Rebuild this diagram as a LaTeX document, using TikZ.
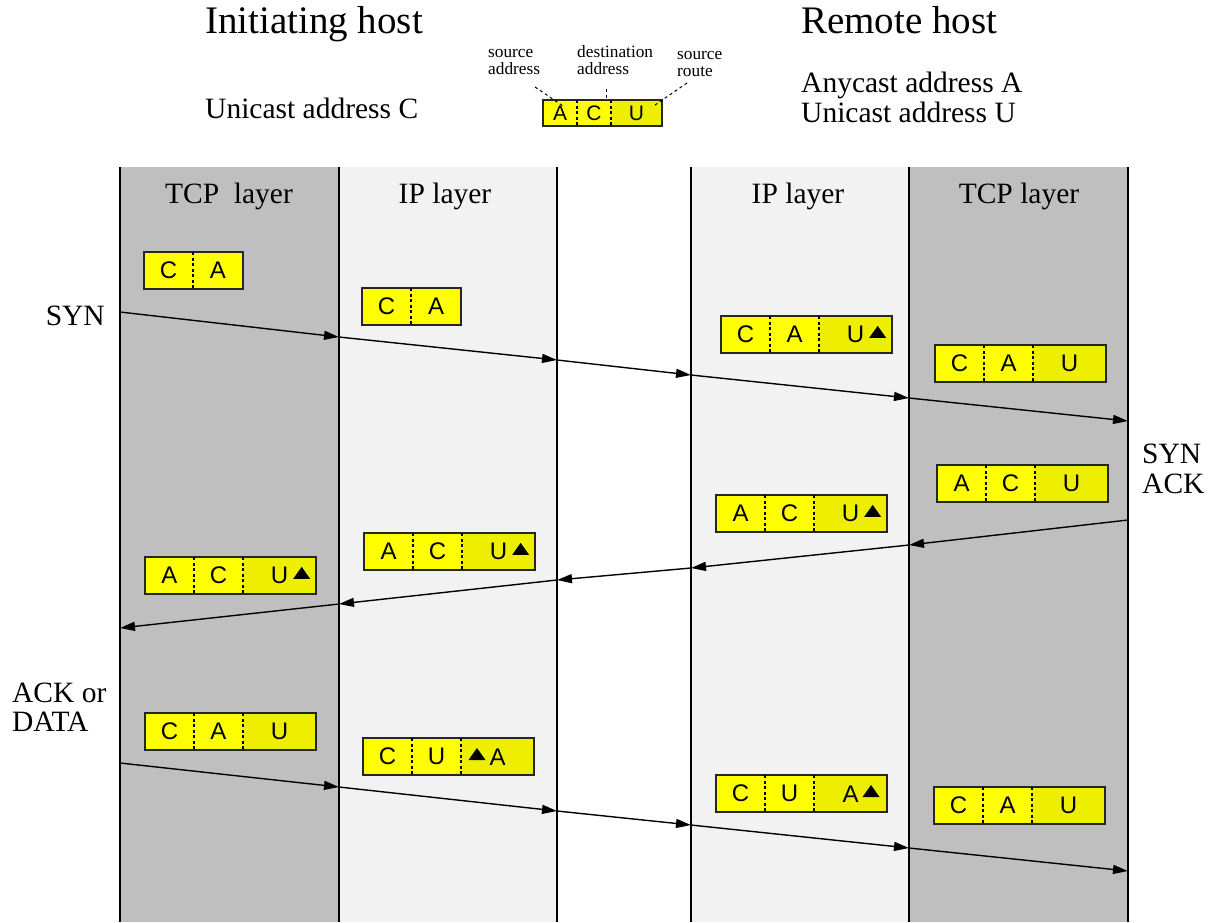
\documentclass[tikz,border=0pt]{standalone}
\usepackage{fontspec}
\setmainfont{Liberation Serif}
\newfontfamily\pktfont{Liberation Sans}
\usetikzlibrary{arrows.meta}
\definecolor{darkband}{HTML}{BFBFBF}
\definecolor{lightband}{HTML}{F2F2F2}
\definecolor{ylw}{HTML}{FFFF00}
\definecolor{ylwd}{HTML}{EEEE00}
\newcommand{\fsz}[1]{\fontsize{#1}{#1}\selectfont}
\newcommand{\tri}{\raisebox{5pt}{\tikz\fill (0pt,0pt)--(17pt,0pt)--(8.5pt,12pt)--cycle;}}
\tikzset{
  cellbase/.style={rectangle, inner sep=0pt, outer sep=0pt, minimum height=37, anchor=north west, font=\pktfont\fsz{24}},
  cell/.style={cellbase, fill=ylw},
  celld/.style={cellbase, fill=ylwd},
  hcellbase/.style={rectangle, inner sep=0pt, outer sep=0pt, minimum height=26, anchor=north west, font=\pktfont\fsz{21}},
  hcell/.style={hcellbase, fill=ylw},
  hcelld/.style={hcellbase, fill=ylwd},
  pktborder/.style={draw=black!85, line width=1.2},
  divider/.style={line width=1.1, dash pattern=on 3pt off 2.5pt},
  msg/.style={line width=1.4, -{Triangle[length=15pt,width=9pt]}},
  leader/.style={line width=1, dash pattern=on 3pt off 3pt},
  vline/.style={line width=1.4},
  title/.style={anchor=base west, inner sep=0pt, font=\fsz{39}},
  big/.style={inner sep=0pt, font=\fsz{29.5}},
  small/.style={anchor=base west, inner sep=0pt, font=\fsz{17.3}},
}
\newcommand{\pkttwo}[5]{%
  \node[cell, minimum width=49] (#1a) at (#2,#3) {#4};
  \node[cell, minimum width=50] (#1b) at (#1a.north east) {#5};
  \draw[pktborder] (#1a.north west) rectangle (#1b.south east);
  \draw[divider] (#1a.north east) -- (#1a.south east);}
\newcommand{\pktthree}[6]{%
  \node[cell, minimum width=49] (#1a) at (#2,#3) {#4};
  \node[cell, minimum width=49] (#1b) at (#1a.north east) {#5};
  \node[celld, minimum width=73] (#1c) at (#1b.north east) {#6};
  \draw[pktborder] (#1a.north west) rectangle (#1c.south east);
  \draw[divider] (#1a.north east) -- (#1a.south east);
  \draw[divider] (#1b.north east) -- (#1b.south east);}
\begin{document}
\begin{tikzpicture}[x=1pt,y=-1pt]
\useasboundingbox (0,0) rectangle (1210,922);
% bands
\fill[darkband] (120,167) rectangle (339,922);
\fill[lightband] (339,167) rectangle (557,922);
\fill[lightband] (691,167) rectangle (909,922);
\fill[darkband] (909,167) rectangle (1128,922);
\foreach \xx in {120,339,557,691,909,1128} \draw[vline] (\xx,167) -- (\xx,922);

% titles
\node[title] (tinit) at (205,33) {Initiating host};
\node[title] (trem) at (801,33) {Remote host};
\node[big, anchor=base west] (uc) at (205,118) {Unicast address C};
\node[big, anchor=base west] (aa) at (801,92) {Anycast address A};
\node[big, anchor=base west] (uu) at (801,122) {Unicast address U};

% header packet
\node[hcell, minimum width=34] (ha) at (543,100) {A};
\node[hcell, minimum width=34] (hb) at (ha.north east) {C};
\node[hcelld, minimum width=51] (hc) at (hb.north east) {U};
\draw[pktborder] (ha.north west) rectangle (hc.south east);
\draw[divider] (ha.north east) -- (ha.south east);
\draw[divider] (hb.north east) -- (hb.south east);
\node[small] (sa1) at (488,57) {source};
\node[small] (sa2) at (488,74) {address};
\node[small] (da1) at (577,57) {destination};
\node[small] (da2) at (577,74) {address};
\node[small] (sr1) at (677,59) {source};
\node[small] (sr2) at (677,76) {route};
\coordinate (l1s) at (535,87); \coordinate (l1e) at (563,106);
\coordinate (l2s) at (606,89); \coordinate (l2e) at (606,101);
\coordinate (l3s) at (687,83); \coordinate (l3e) at (655,105);
\draw[leader] (l1s) -- (l1e);
\draw[leader] (l2s) -- (l2e);
\draw[leader] (l3s) -- (l3e);

% layer titles
\node[big, anchor=base] (lt1) at (229,203) {TCP\ \ layer};
\node[big, anchor=base] (lt2) at (445,203) {IP layer};
\node[big, anchor=base] (lt3) at (798,203) {IP layer};
\node[big, anchor=base] (lt4) at (1019,203) {TCP layer};

% side labels
\node[big, anchor=base east] (syn) at (105,325) {SYN};
\node[big, anchor=base west] (sa) at (1142,463) {SYN};
\node[big, anchor=base west] (sb) at (1142,493) {ACK};
\node[big, anchor=base west] (ad1) at (12,702) {ACK or};
\node[big, anchor=base west] (ad2) at (12,731) {DATA};

% packets
\pkttwo{p1}{144}{252}{C}{A}
\pkttwo{p2}{362}{288}{C}{A}
\pktthree{p3}{721}{316}{C}{A}{U\rlap{\hspace{5pt}\tri}}
\pktthree{p4}{935}{345}{C}{A}{U}
\pktthree{p5}{937}{465}{A}{C}{U}
\pktthree{p6}{716}{495}{A}{C}{U\rlap{\hspace{5pt}\tri}}
\pktthree{p7}{364}{533}{A}{C}{U\rlap{\hspace{5pt}\tri}}
\pktthree{p8}{145}{557}{A}{C}{U\rlap{\hspace{5pt}\tri}}
\pktthree{p9}{145}{713}{C}{A}{U}
\pktthree{p10}{363}{738}{C}{U}{\llap{\tri\hspace{4pt}}A}
\pktthree{p11}{716}{775}{C}{U}{A\rlap{\hspace{4pt}\tri}}
\pktthree{p12}{934}{787}{C}{A}{U}

% message arrows
\coordinate (s0) at (120,312); \coordinate (s1) at (339,337); \coordinate (s2) at (557,360);
\coordinate (s3) at (691,375); \coordinate (s4) at (909,398); \coordinate (s5) at (1128,421);
\coordinate (a0) at (1128,520); \coordinate (a1) at (909,545); \coordinate (a2) at (691,568);
\coordinate (a3) at (557,580); \coordinate (a4) at (339,604); \coordinate (a5) at (120,628);
\coordinate (k0) at (120,763); \coordinate (k1) at (339,787); \coordinate (k2) at (557,811);
\coordinate (k3) at (691,825); \coordinate (k4) at (909,848); \coordinate (k5) at (1128,871);
\foreach \p in {s,a,k}{
  \draw[msg] (\p0) -- (\p1);
  \draw[msg] (\p1) -- (\p2);
  \draw[msg] (\p2) -- (\p3);
  \draw[msg] (\p3) -- (\p4);
  \draw[msg] (\p4) -- (\p5);
}
\end{tikzpicture}
\end{document}
